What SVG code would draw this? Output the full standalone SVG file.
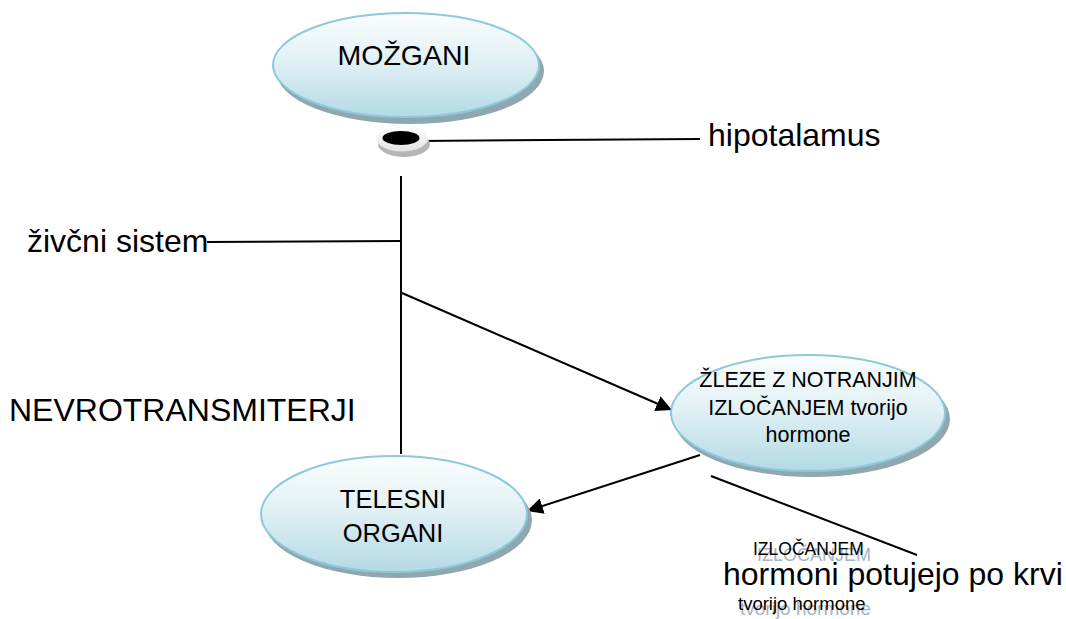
<svg xmlns="http://www.w3.org/2000/svg" width="1066" height="619" viewBox="0 0 1066 619">
<defs>
<linearGradient id="bub" x1="0" y1="0" x2="0" y2="1">
<stop offset="0" stop-color="#fbfdfe"/>
<stop offset="0.45" stop-color="#e2f1f5"/>
<stop offset="1" stop-color="#b3dae5"/>
</linearGradient>
<linearGradient id="ring" x1="0" y1="0" x2="0" y2="1">
<stop offset="0" stop-color="#ffffff"/>
<stop offset="1" stop-color="#e4e4e4"/>
</linearGradient>
<marker id="arr" viewBox="0 0 10 10" refX="10" refY="5" markerWidth="16" markerHeight="16" markerUnits="userSpaceOnUse" orient="auto">
<path d="M0,0 L10,5 L0,10 z" fill="#000"/>
</marker>
</defs>
<style>
.sh{fill:#8fa8af}
.bub{fill:url(#bub);stroke:#8ccadb;stroke-width:2}
.t{font-family:"Liberation Sans",Arial,sans-serif;fill:#000;text-anchor:middle}
.lbl{font-family:"Liberation Sans",Arial,sans-serif;fill:#000}
.big{font-size:32px}
.ln{stroke:#000;stroke-width:2;fill:none}
.gh{font-family:"Liberation Sans",Arial,sans-serif;fill:#a3b6c4}
</style>
<rect width="1066" height="619" fill="#fff"/>

<g id="connectors">
<line class="ln" x1="419" y1="141" x2="700" y2="139"/>
<line class="ln" x1="401" y1="176" x2="401" y2="454"/>
<line class="ln" x1="207" y1="242" x2="401" y2="241"/>
<line class="ln" x1="402" y1="293" x2="672" y2="410" marker-end="url(#arr)"/>
<line class="ln" x1="700" y1="455" x2="527" y2="511" marker-end="url(#arr)"/>
<line class="ln" x1="711" y1="476" x2="917" y2="555"/>
</g>

<g id="mozgani">
<ellipse class="sh" cx="410" cy="71" rx="134" ry="53"/>
<ellipse class="bub" cx="406" cy="65" rx="133" ry="52"/>
<text class="t" x="404" y="65" font-size="28.5">MOŽGANI</text>
</g>

<g id="hipotalamus-node">
<ellipse cx="404" cy="144" rx="26" ry="13" fill="#b5b5b5"/>
<ellipse cx="402" cy="138" rx="26" ry="13.5" fill="url(#ring)"/>
<ellipse cx="401" cy="138" rx="18.5" ry="7" fill="#000"/>
</g>

<g id="zleze">
<ellipse class="sh" cx="812" cy="419" rx="138" ry="58"/>
<ellipse class="bub" cx="808" cy="413" rx="137" ry="58"/>
<text class="t" font-size="21.5" x="808" y="387">ŽLEZE Z NOTRANJIM</text>
<text class="t" font-size="21.5" x="808" y="415">IZLOČANJEM tvorijo</text>
<text class="t" font-size="21.5" x="808" y="442">hormone</text>
</g>

<g id="telesni">
<ellipse class="sh" cx="398" cy="520" rx="134" ry="58"/>
<ellipse class="bub" cx="394" cy="514" rx="133" ry="58"/>
<text class="t" font-size="25.5" x="393" y="508">TELESNI</text>
<text class="t" font-size="25.5" x="393" y="542">ORGANI</text>
</g>

<g id="labels">
<text class="lbl big" x="708" y="146">hipotalamus</text>
<text class="lbl big" x="27" y="252">živčni sistem</text>
<text class="lbl big" x="9" y="421">NEVROTRANSMITERJI</text>
<text class="gh" x="757" y="561" font-size="18">IZLOČANJEM</text>
<text class="gh" x="740" y="615" font-size="19">tvorijo hormone</text>
<text class="lbl" x="753" y="555" font-size="17.5">IZLOČANJEM</text>
<text class="lbl" x="738" y="610" font-size="18.5">tvorijo hormone</text>
<text class="lbl big" x="723" y="585">hormoni potujejo po krvi</text>
</g>
</svg>
